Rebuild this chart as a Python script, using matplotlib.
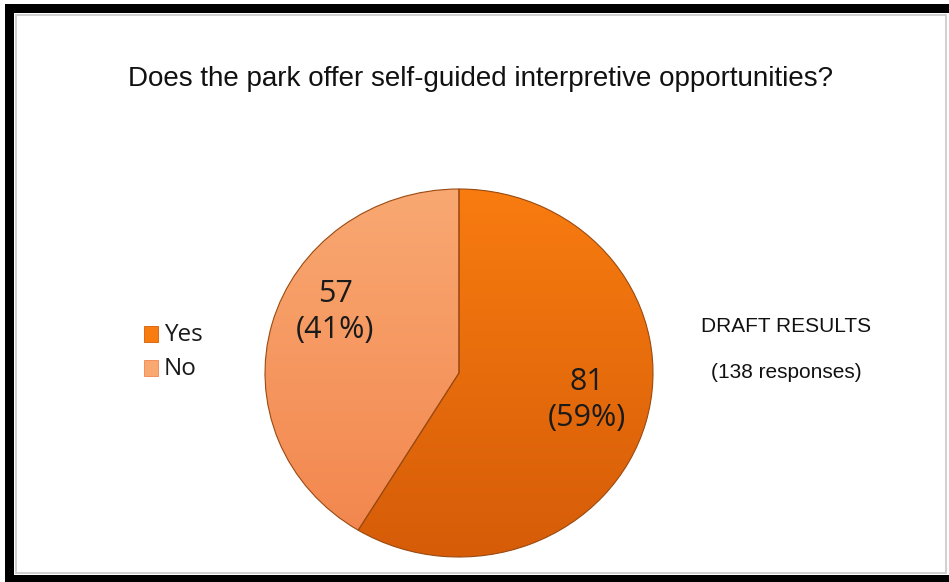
import matplotlib.pyplot as plt
from matplotlib.patches import Rectangle
import numpy as np

labels = ['Yes', 'No']
counts = [81, 57]
title = 'Does the park offer self-guided interpretive opportunities?'
note_1 = 'DRAFT RESULTS'
note_2 = '(138 responses)'

# top / bottom colours for the shaded slices
shades = {'Yes': ('#F87C10', '#D65C08'), 'No': ('#F9A872', '#F2854C')}

fig = plt.figure(figsize=(9.49, 5.82), dpi=100)
W, H = 949, 582

# frame: black band on left, top, bottom and a thin grey inner line
def px_rect(x0, y0, x1, y1, **kw):
    fig.patches.append(Rectangle((x0 / W, 1 - y1 / H), (x1 - x0) / W, (y1 - y0) / H,
                                 transform=fig.transFigure, **kw))

px_rect(5, 4, 949, 13, color='black', lw=0)
px_rect(5, 4, 14, 582, color='black', lw=0)
px_rect(5, 575, 949, 582, color='black', lw=0)
px_rect(16, 15, 946, 573, fill=False, ec='#C8C8C8', lw=1.2)

fig.text(480 / W, 1 - 79 / H, title, ha='center', va='center',
         fontsize=20, family='Liberation Sans', color='#111111')

# pie axes, stretched slightly wider than tall like the original
cx, cy, rx, ry = 459, 373, 194, 184
ax = fig.add_axes([(cx - rx) / W, 1 - (cy + ry) / H, 2 * rx / W, 2 * ry / H])
wedges, _ = ax.pie(counts, startangle=90, counterclock=False, radius=1,
                   colors=[shades[l][0] for l in labels],
                   wedgeprops=dict(edgecolor='#9A4A10', linewidth=0.8))
ax.set_aspect('auto')
ax.axis('off')

# vertical gradient clipped to each slice
for w, l in zip(wedges, labels):
    top, bot = shades[l]
    c0 = np.array(plt.matplotlib.colors.to_rgb(top))
    c1 = np.array(plt.matplotlib.colors.to_rgb(bot))
    t = np.linspace(0, 1, 256)[:, None, None]
    img = np.repeat(c0 * (1 - t) + c1 * t, 2, axis=1)
    im = ax.imshow(img, extent=(-1, 1, -1, 1), aspect='auto', zorder=w.get_zorder() - 0.1)
    im.set_clip_path(w)
    w.set_facecolor('none')

ax.set_xlim(-1, 1)
ax.set_ylim(-1, 1)

total = sum(counts)
label_pos = {'Yes': (587, 400), 'No': (335, 312)}
for l, c in zip(labels, counts):
    x, y = label_pos[l]
    fig.text(x / W, 1 - y / H, f'{c}\n({round(100 * c / total)}%)', ha='center', va='center',
             fontsize=22, family='Open Sans', color='#1a1a1a', linespacing=1.3)

# legend
leg_y = {'Yes': 334, 'No': 368}
for l in labels:
    y = leg_y[l]
    px_rect(144, y - 8, 158, y + 8, color=shades[l][0], ec=shades[l][1], lw=0.6)
    fig.text(164 / W, 1 - (y + 1) / H, l, ha='left', va='center', fontsize=17.5,
             family='Open Sans', color='#1a1a1a')

fig.text(786 / W, 1 - 327 / H, note_1, ha='center', va='center', fontsize=15,
         family='Liberation Sans', color='#111111')
fig.text(786 / W, 1 - 372 / H, note_2, ha='center', va='center', fontsize=15,
         family='Liberation Sans', color='#111111')

fig.savefig('out.png', dpi=100)
